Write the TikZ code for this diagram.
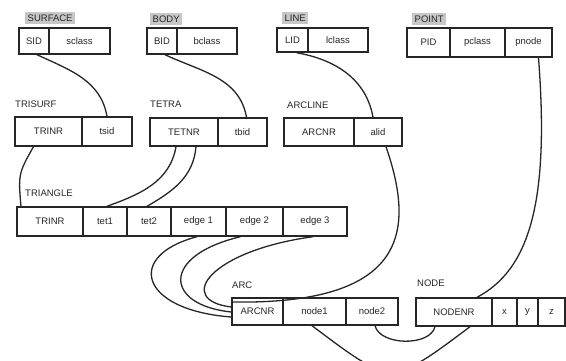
\documentclass[tikz,border=0pt]{standalone}
\usepackage{fontspec}
\setmainfont{Liberation Sans}
\begin{document}
\begin{tikzpicture}[x=1pt,y=1pt,
  every node/.style={font=\fontsize{9.5}{10}\selectfont, text=black!85},
  cell/.style={draw=black!85, line width=1.4pt, inner sep=0pt, minimum height=#1},
  cell/.default=28,
  tag/.style={anchor=west, inner sep=0pt},
  graytag/.style={anchor=west, fill=black!22, inner xsep=2.5pt, inner ysep=0pt, minimum height=12},
  link/.style={draw=black!85, line width=1.3pt}]
\useasboundingbox (0,0) rectangle (566,-360);
\clip (0,0) rectangle (566,-360);
% top row labels
\node[graytag] (lsurface) at (25,-18) {SURFACE};
\node[graytag] (lbody) at (150,-19) {BODY};
\node[graytag] (lline) at (282,-18) {LINE};
\node[graytag] (lpoint) at (412,-19) {POINT};
% SURFACE
\node[cell=26, minimum width=30] (sid) at (34,-41) {SID};
\node[cell=26, minimum width=61] (sclass) at (79.5,-41) {sclass};
% BODY
\node[cell=26, minimum width=30] (bid) at (162,-41) {BID};
\node[cell=26, minimum width=60] (bclass) at (207,-41) {bclass};
% LINE
\node[cell=24, minimum width=31] (lid) at (292.5,-40) {LID};
\node[cell=24, minimum width=60] (lclass) at (338,-40) {lclass};
% POINT
\node[cell=29, minimum width=43] (pid) at (428.5,-42.5) {PID};
\node[cell=29, minimum width=55] (pclass) at (477.5,-42.5) {pclass};
\node[cell=29, minimum width=47] (pnode) at (528.5,-42.5) {pnode};
% middle row
\node[tag] (ltrisurf) at (15,-104) {TRISURF};
\node[tag] (ltetra) at (150,-104) {TETRA};
\node[tag] (larcline) at (287,-105) {ARCLINE};
\node[cell=29, minimum width=67] (tri1) at (48.5,-131.5) {TRINR};
\node[cell=29, minimum width=50] (tsid) at (107,-131.5) {tsid};
\node[cell=28, minimum width=68] (tetnr) at (184,-132) {TETNR};
\node[cell=28, minimum width=49] (tbid) at (242.5,-132) {tbid};
\node[cell=28, minimum width=70] (arcnr1) at (319,-132) {ARCNR};
\node[cell=28, minimum width=48] (alid) at (378,-132) {alid};
% TRIANGLE
\node[tag] (ltriangle) at (25,-193) {TRIANGLE};
\node[cell=29, minimum width=66] (trinr) at (50,-221.5) {TRINR};
\node[cell=29, minimum width=44] (tet1) at (105,-221.5) {tet1};
\node[cell=29, minimum width=44] (tet2) at (149,-221.5) {tet2};
\node[cell=29, minimum width=55] (edge1) at (198.5,-221.5) {edge 1};
\node[cell=29, minimum width=57] (edge2) at (254.5,-221.5) {edge 2};
\node[cell=29, minimum width=64] (edge3) at (315,-221.5) {edge 3};
% ARC
\node[tag] (larc) at (232,-285) {ARC};
\node[cell=27, minimum width=51] (arcnr) at (257.5,-311.5) {ARCNR};
\node[cell=27, minimum width=63] (node1) at (314.5,-311.5) {node1};
\node[cell=27, minimum width=52] (node2) at (372,-311.5) {node2};
% NODE
\node[tag] (lnode) at (417,-283) {NODE};
\node[cell=28, minimum width=76] (nodenr) at (454,-312) {NODENR};
\node[cell=28, minimum width=25] (nx) at (504.5,-312) {x};
\node[cell=28, minimum width=21] (ny) at (527.5,-312) {y};
\node[cell=28, minimum width=27] (nz) at (551.5,-312) {z};
% connectors
\draw[link] ([xshift=3pt]sid.south) to[out=-25,in=100] (tsid.north);
\draw[link] ([xshift=3pt]bid.south) to[out=-25,in=100] ([xshift=4pt]tbid.north);
\draw[link] ([xshift=4pt]lid.south) to[out=-10,in=100] ([xshift=-5pt]alid.north);
\draw[link] ([xshift=10pt]pnode.south) .. controls +(11,-143) and +(53,28) .. ([xshift=23pt]nodenr.north);
\draw[link] ([xshift=-15pt]tri1.south) to[out=-120,in=95,looseness=1.3] ([xshift=-29pt]trinr.north);
\draw[link] ([xshift=-8pt]tetnr.south) to[out=-100,in=20] ([xshift=2pt]tet1.north);
\draw[link] ([xshift=12pt]tetnr.south) to[out=-95,in=30] ([xshift=-2pt]tet2.north);
\draw[link] ([xshift=8pt]alid.south) .. controls +(29,-84) and +(177,-3) .. ([yshift=9.5pt]arcnr.west);
\draw[link] ([xshift=-1.5pt]edge1.south) .. controls +(-72,-19) and +(-92,7) .. ([yshift=-5.5pt]arcnr.west);
\draw[link] ([xshift=-14pt]edge2.south) .. controls +(-80,-19) and +(-67,7) .. ([yshift=-0.5pt]arcnr.west);
\draw[link] ([xshift=-2pt]edge3.south) .. controls +(-103,-14) and +(-57,7) .. ([yshift=4.5pt]arcnr.west);
\draw[link] ([xshift=3pt]node2.south) .. controls +(5,-20) and +(-5,-20) .. ([xshift=-19pt]nodenr.south);
\draw[link] ([xshift=-2.5pt]node1.south) .. controls +(80,-60) and +(-80,-60) .. ([xshift=16pt]nodenr.south);
\end{tikzpicture}
\end{document}
